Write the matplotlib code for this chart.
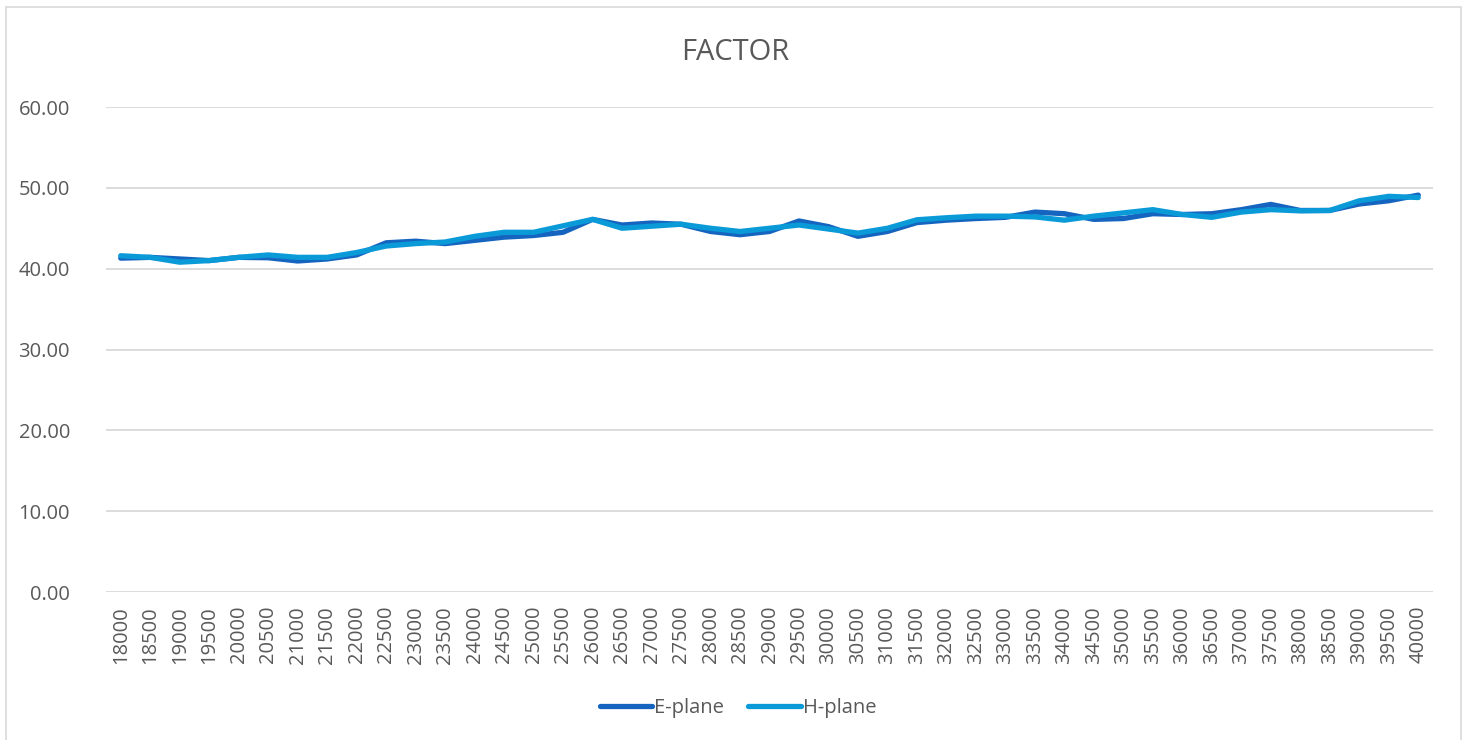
import numpy as np
import matplotlib
matplotlib.use("Agg")
import matplotlib.pyplot as plt
from matplotlib.patches import Rectangle

# ── Data ──────────────────────────────────────────────────────────────────────
FREQS = list(range(18000, 40001, 500))

E_PLANE = [41.3, 41.4, 41.2, 41.0, 41.4, 41.35, 40.95, 41.2, 41.7, 43.2,
           43.4, 43.1, 43.5, 43.9, 44.1, 44.5, 46.1, 45.4, 45.65, 45.5,
           44.6, 44.2, 44.6, 45.9, 45.2, 44.0, 44.6, 45.7, 46.0, 46.2,
           46.35, 47.0, 46.8, 46.1, 46.2, 46.8, 46.7, 46.8, 47.3, 47.95,
           47.2, 47.2, 48.0, 48.4, 49.1]
H_PLANE = [41.6, 41.4, 40.8, 41.0, 41.4, 41.7, 41.4, 41.4, 42.0, 42.8,
           43.1, 43.3, 44.0, 44.5, 44.5, 45.3, 46.1, 45.0, 45.25, 45.5,
           45.0, 44.6, 45.0, 45.4, 44.9, 44.4, 45.0, 46.05, 46.3, 46.5,
           46.5, 46.4, 46.0, 46.5, 46.9, 47.3, 46.7, 46.35, 47.0, 47.3,
           47.15, 47.2, 48.4, 48.95, 48.8]
Y_TICKS = [0, 10, 20, 30, 40, 50, 60]

# ── Style ─────────────────────────────────────────────────────────────────────
TXT = "#595959"
GRID = "#d9d9d9"
E_COLOR = "#1565c0"
H_COLOR = "#0a9ad8"
plt.rcParams["font.family"] = ["Open Sans", "DejaVu Sans"]

W, H = 1465, 740
fig = plt.figure(figsize=(W / 100, H / 100), dpi=100, facecolor="white")

# chart border
fig.patches.append(Rectangle((6 / W, -0.02), 1455 / W, 1 - 7 / H + 0.02,
                             transform=fig.transFigure, fill=False,
                             edgecolor=GRID, linewidth=1.2))

ax = fig.add_axes([106 / W, 1 - 592 / H, (1433 - 106) / W, (592 - 107) / H])
x = np.arange(len(FREQS))
ax.plot(x, E_PLANE, color=E_COLOR, lw=3.8, solid_capstyle="round",
        solid_joinstyle="round", label="E-plane", zorder=3)
ax.plot(x, H_PLANE, color=H_COLOR, lw=3.8, solid_capstyle="round",
        solid_joinstyle="round", label="H-plane", zorder=4)

ax.set_xlim(-0.5, len(FREQS) - 0.5)
ax.set_ylim(0, 60)
ax.set_yticks(Y_TICKS)
ax.set_yticklabels([f"{v:.2f}" for v in Y_TICKS])
ax.set_xticks(x)
ax.set_xticklabels([str(f) for f in FREQS], rotation=90)
ax.tick_params(axis="both", length=0, labelsize=14.5, colors=TXT)
ax.tick_params(axis="y", pad=26)
ax.tick_params(axis="x", pad=10)

for s in ax.spines.values():
    s.set_visible(False)
ax.grid(axis="y", color=GRID, lw=1.3)
ax.set_axisbelow(True)

fig.text(735 / W, 1 - 52 / H, "FACTOR", ha="center", va="center",
         fontsize=21, color=TXT)

fig.legend(loc="center", bbox_to_anchor=(738 / W, 1 - 708 / H), ncol=2,
           frameon=False, fontsize=14.5, labelcolor=TXT, handlelength=2.6,
           handletextpad=0.1, columnspacing=1.2)

fig.savefig("out.png", dpi=100, facecolor="white")
